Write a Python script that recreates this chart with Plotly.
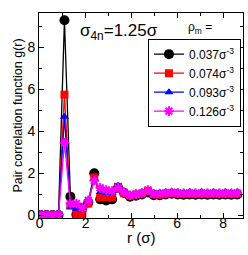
import plotly.graph_objects as go

r = [0.04, 0.30, 0.56, 0.82, 1.08, 1.34, 1.60, 1.86, 2.12, 2.38, 2.64, 2.90, 3.16, 3.42,
     3.68, 3.94, 4.20, 4.46, 4.72, 4.98, 5.24, 5.50, 5.76, 6.02, 6.28, 6.54, 6.80, 7.06,
     7.32, 7.58, 7.84, 8.10, 8.36, 8.62]

g_037 = [0.0, 0.0, 0.0, 0.0, 9.3, 0.88, 0.02, 0.35, 0.60, 2.00, 0.75, 0.70, 0.75, 1.30,
         1.05, 0.88, 0.92, 0.98, 1.08, 0.95, 0.95, 0.98, 1.02, 0.98, 0.97, 0.98, 0.97, 0.98,
         0.97, 0.98, 0.97, 0.98, 0.97, 0.98]
g_074 = [0.0, 0.0, 0.0, 0.0, 5.75, 0.45, 0.05, 0.05, 0.55, 1.80, 0.85, 0.85, 0.85, 1.35,
         1.05, 0.92, 0.98, 1.02, 1.15, 1.00, 0.98, 1.02, 1.05, 1.02, 1.00, 1.02, 1.00, 1.02,
         1.00, 1.02, 1.00, 1.02, 1.00, 1.02]
g_093 = [0.0, 0.0, 0.0, 0.0, 4.7, 0.40, 0.30, 0.25, 0.70, 1.75, 1.10, 1.05, 1.05, 1.40,
         1.15, 0.98, 1.05, 1.10, 1.20, 1.05, 1.08, 1.10, 1.12, 1.10, 1.08, 1.10, 1.08, 1.10,
         1.08, 1.10, 1.08, 1.10, 1.08, 1.10]
g_126 = [0.0, 0.0, 0.0, 0.0, 3.45, 0.55, 0.55, 0.35, 0.70, 1.65, 1.30, 1.20, 1.15, 1.30,
         1.10, 0.95, 1.00, 1.05, 1.20, 1.02, 1.02, 1.05, 1.08, 1.05, 1.04, 1.05, 1.04, 1.05,
         1.04, 1.05, 1.04, 1.05, 1.04, 1.05]

labels = ["0.037σ<sup>-3</sup>", "0.074σ<sup>-3</sup>", "0.093σ<sup>-3</sup>", "0.126σ<sup>-3</sup>"]
colors = ["black", "red", "blue", "magenta"]
symbols = ["circle", "square", "triangle-up", "asterisk"]
sizes = [10, 8, 8, 8]
series = [g_037, g_074, g_093, g_126]

fig = go.Figure()
for ys, lab, c, s, sz in zip(series, labels, colors, symbols, sizes):
    marker = dict(color=c, symbol=s, size=sz)
    if s == "asterisk":
        marker["line"] = dict(color=c, width=2)
    else:
        marker["line"] = dict(width=0)
    fig.add_trace(go.Scatter(x=r, y=ys, mode="lines+markers", name=lab,
                             line=dict(color=c, width=1.3), marker=marker))

font = "Liberation Sans, Arial, sans-serif"
axis_common = dict(showline=True, linecolor="black", linewidth=1, mirror="ticks",
                   ticks="inside", ticklen=5, tickcolor="black", showgrid=False,
                   zeroline=False, tickfont=dict(size=14, color="black", family=font),
                   minor=dict(ticks="inside", ticklen=3, tickcolor="black", dtick=1))

fig.update_layout(
    width=248, height=255,
    margin=dict(l=39, r=5, t=13, b=37, autoexpand=False),
    paper_bgcolor="white", plot_bgcolor="white",
    font=dict(family=font, color="black"),
    xaxis=dict(range=[-0.03, 8.87], dtick=2, tick0=0, ticklabelstandoff=-8, **axis_common),
    yaxis=dict(range=[-0.14, 9.65], dtick=2, tick0=0,
               title=dict(text="Pair correlation function g(r)", font=dict(size=12.5), standoff=2),
               **axis_common),
    legend=dict(x=0.99, y=0.875, xanchor="right", yanchor="top",
                bordercolor="black", borderwidth=1, bgcolor="white",
                font=dict(size=12, color="black", family=font),
                tracegroupgap=0, itemwidth=30),
    showlegend=True,
    annotations=[
        dict(text="σ<sub>4n</sub>=1.25σ", x=0.19, y=0.905, xref="paper", yref="paper",
             xanchor="left", yanchor="middle", showarrow=False, font=dict(size=17)),
        dict(text="ρ<sub>m</sub> =", x=0.72, y=0.925, xref="paper", yref="paper",
             xanchor="left", yanchor="middle", showarrow=False, font=dict(size=12)),
        dict(text="r (σ)", x=0.5, y=-0.095, xref="paper", yref="paper",
             xanchor="center", yanchor="middle", showarrow=False, font=dict(size=15)),
    ],
)

fig.write_html(
    "out.html",
    config={"displayModeBar": False},
    post_script=("document.body.style.margin='0';"
                 "document.body.style.overflow='hidden';"
                 "document.documentElement.style.overflow='hidden';"),
)
